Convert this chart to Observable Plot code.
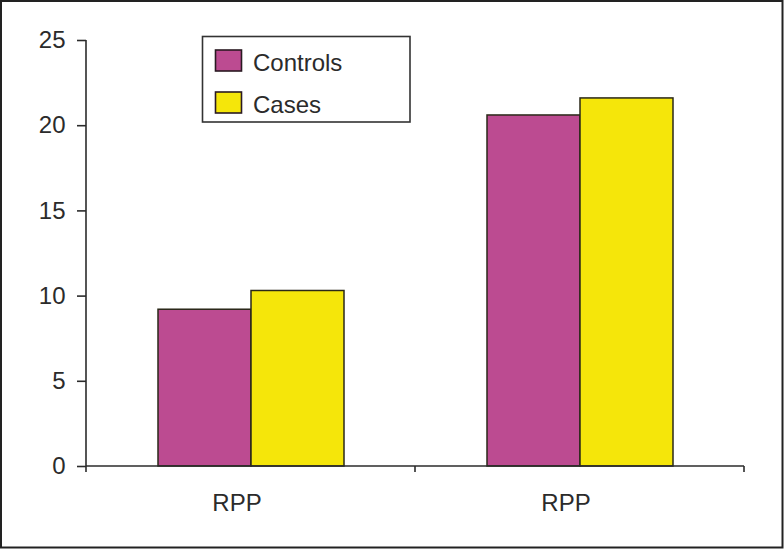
<!DOCTYPE html>
<html>
<head>
<meta charset="utf-8">
<script src="https://cdn.jsdelivr.net/npm/d3@7"></script>
<script src="https://cdn.jsdelivr.net/npm/@observablehq/plot@0.6"></script>
<style>
  html, body { margin: 0; padding: 0; background: #fff; }
  #wrap { position: relative; width: 784px; height: 549px; overflow: hidden; }
  #wrap > svg { position: absolute; left: 0; top: 0; }
  #overlay { pointer-events: none; }
</style>
</head>
<body>
<div id="wrap"></div>
<script>
// ---- data ----
const groupIds = ["g1", "g2"];
const groupLabels = ["RPP", "RPP"];
const series = ["Controls", "Cases"];
const controls = [9.2, 20.6];
const cases = [10.3, 21.6];
const seriesColors = ["#BC4B91", "#F5E60A"];
const yTicks = [0, 5, 10, 15, 20, 25];

const rows = [];
groupIds.forEach((g, i) => {
  rows.push({group: g, series: series[0], value: controls[i]});
  rows.push({group: g, series: series[1], value: cases[i]});
});

const W = 784, H = 549;
const font = "'Liberation Sans', Arial, sans-serif";
const ink = "#2b2b2b";

const chart = Plot.plot({
  width: W,
  height: H,
  marginLeft: 86,
  marginRight: 40,
  marginTop: 40,
  marginBottom: 83,
  style: {fontFamily: font, fontSize: "24px", color: ink, background: "transparent", overflow: "visible"},
  y: {domain: [0, 25]},
  fx: {domain: groupIds, padding: 0, label: null},
  x: {domain: series, paddingInner: 0, paddingOuter: 0.754, axis: null},
  color: {domain: series, range: seriesColors},
  marks: [
    Plot.barY(rows, {fx: "group", x: "series", y: "value", fill: "series", stroke: "#2a2818", strokeWidth: 1.5}),
    Plot.axisY({ticks: yTicks, tickSize: 9, tickPadding: 12, label: null, stroke: ink, strokeWidth: 1.6, fontSize: 24}),
    Plot.axisFx({anchor: "bottom", tickSize: 0, tickPadding: 27, dx: -14, label: null, fontSize: 24,
      tickFormat: g => groupLabels[groupIds.indexOf(g)]})
  ]
});
document.getElementById("wrap").appendChild(chart);

// axis lines from the library's scales
const ys = chart.scale("y"), fxs = chart.scale("fx");
const y0 = ys.apply(0), yTop = ys.apply(25);
const left = fxs.apply(groupIds[0]);
const mid = fxs.apply(groupIds[1]);
const right = fxs.apply(groupIds[1]) + fxs.bandwidth;
const sel = d3.select(chart).append("g").attr("stroke", ink).attr("stroke-width", 1.6).attr("fill", "none");
sel.append("line").attr("x1", left).attr("x2", left).attr("y1", yTop).attr("y2", y0 + 6);
sel.append("line").attr("x1", left).attr("x2", right).attr("y1", y0).attr("y2", y0);
[mid, right].forEach(x => sel.append("line").attr("x1", x).attr("x2", x).attr("y1", y0).attr("y2", y0 + 6));

// overlay: legend + outer border
const ov = d3.select("#wrap").append("svg").attr("id", "overlay")
  .attr("width", W).attr("height", H).attr("viewBox", `0 0 ${W} ${H}`);
ov.append("rect").attr("x", 1).attr("y", 1).attr("width", W - 2.5).attr("height", H - 2.5)
  .attr("fill", "none").attr("stroke", "#222").attr("stroke-width", 2);
const lg = ov.append("g").attr("transform", "translate(202,36)");
lg.append("rect").attr("x", 0.5).attr("y", 0.5).attr("width", 207.5).attr("height", 85.5)
  .attr("fill", "#fff").attr("stroke", "#333").attr("stroke-width", 1.6);
series.forEach((s, i) => {
  const gy = 14 + i * 42;
  lg.append("rect").attr("x", 13.5).attr("y", gy).attr("width", 26).attr("height", 21)
    .attr("fill", seriesColors[i]).attr("stroke", "#2a1a22").attr("stroke-width", 1.6);
  lg.append("text").attr("x", 51).attr("y", gy + 21).attr("font-family", font)
    .attr("font-size", 24).attr("fill", ink).text(s);
});
</script>
</body>
</html>
